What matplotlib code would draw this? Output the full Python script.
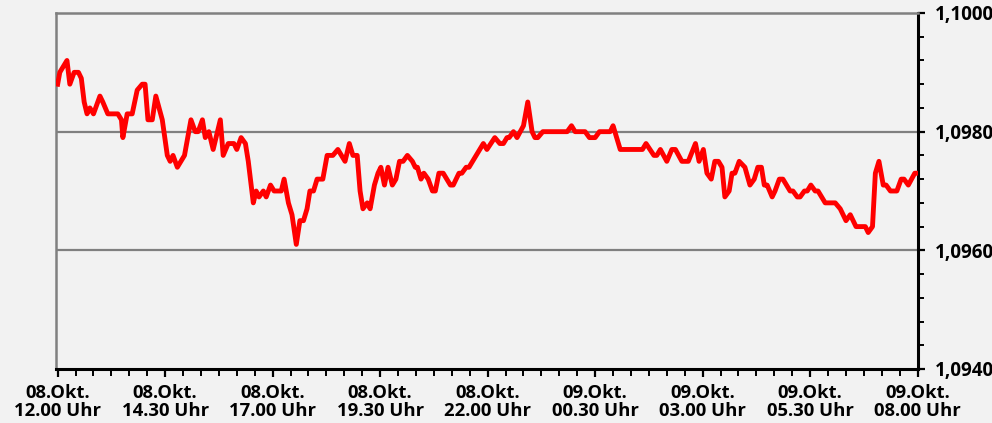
import matplotlib.pyplot as plt
import numpy as np

# minutes after 08.Okt. 12.00 Uhr
minutes = [0, 3, 8, 13, 17, 23, 29, 33, 37, 41, 45, 50, 59, 63, 70, 84, 89, 91, 97, 104,
           111, 118, 122, 126, 132, 137, 146, 153, 157, 161, 167, 177, 186, 192, 196, 202, 206, 211, 217, 227,
           231, 238, 246, 250, 256, 262, 266, 273, 277, 281, 287, 291, 297, 302, 312, 316, 322, 327, 333, 338,
           343, 348, 352, 357, 362, 370, 376, 384, 391, 401, 407, 412, 418, 422, 426, 432, 436, 442, 447, 451,
           456, 461, 467, 472, 477, 482, 488, 495, 499, 502, 507, 511, 517, 523, 527, 532, 538, 548, 552, 560,
           564, 570, 574, 594, 599, 610, 617, 622, 627, 630, 636, 641, 650, 656, 662, 666, 670, 677, 711, 717,
           722, 736, 742, 750, 756, 771, 775, 785, 816, 821, 832, 836, 841, 850, 857, 862, 871, 880, 890, 895,
           901, 906, 912, 917, 922, 927, 931, 937, 941, 945, 951, 959, 966, 972, 977, 982, 986, 990, 997, 1001,
           1007, 1012, 1022, 1026, 1032, 1036, 1042, 1046, 1051, 1057, 1061, 1071, 1085, 1092, 1100, 1106, 1114, 1127, 1131, 1137,
           1141, 1146, 1152, 1156, 1162, 1171, 1177, 1181, 1187, 1196, 1200]

kurs = [1.0988, 1.0990, 1.0991, 1.0992, 1.0988, 1.0990, 1.0990, 1.0989, 1.0985, 1.0983, 1.0984, 1.0983, 1.0986, 1.0985, 1.0983, 1.0983, 1.0982, 1.0979, 1.0983, 1.0983,
        1.0987, 1.0988, 1.0988, 1.0982, 1.0982, 1.0986, 1.0982, 1.0976, 1.0975, 1.0976, 1.0974, 1.0976, 1.0982, 1.0980, 1.0980, 1.0982, 1.0979, 1.0980, 1.0977, 1.0982,
        1.0976, 1.0978, 1.0978, 1.0977, 1.0979, 1.0978, 1.0975, 1.0968, 1.0970, 1.0969, 1.0970, 1.0969, 1.0971, 1.0970, 1.0970, 1.0972, 1.0968, 1.0966, 1.0961, 1.0965,
        1.0965, 1.0967, 1.0970, 1.0970, 1.0972, 1.0972, 1.0976, 1.0976, 1.0977, 1.0975, 1.0978, 1.0976, 1.0976, 1.0970, 1.0967, 1.0968, 1.0967, 1.0971, 1.0973, 1.0974,
        1.0971, 1.0974, 1.0971, 1.0972, 1.0975, 1.0975, 1.0976, 1.0975, 1.0974, 1.0974, 1.0972, 1.0973, 1.0972, 1.0970, 1.0970, 1.0973, 1.0973, 1.0971, 1.0971, 1.0973,
        1.0973, 1.0974, 1.0974, 1.0978, 1.0977, 1.0979, 1.0978, 1.0978, 1.0979, 1.0979, 1.0980, 1.0979, 1.0981, 1.0985, 1.0980, 1.0979, 1.0979, 1.0980, 1.0980, 1.0981,
        1.0980, 1.0980, 1.0979, 1.0979, 1.0980, 1.0980, 1.0981, 1.0977, 1.0977, 1.0978, 1.0976, 1.0976, 1.0977, 1.0975, 1.0977, 1.0977, 1.0975, 1.0975, 1.0978, 1.0975,
        1.0977, 1.0973, 1.0972, 1.0975, 1.0975, 1.0974, 1.0969, 1.0970, 1.0973, 1.0973, 1.0975, 1.0974, 1.0971, 1.0972, 1.0974, 1.0974, 1.0971, 1.0971, 1.0969, 1.0970,
        1.0972, 1.0972, 1.0970, 1.0970, 1.0969, 1.0969, 1.0970, 1.0970, 1.0971, 1.0970, 1.0970, 1.0968, 1.0968, 1.0967, 1.0965, 1.0966, 1.0964, 1.0964, 1.0963, 1.0964,
        1.0973, 1.0975, 1.0971, 1.0971, 1.0970, 1.0970, 1.0972, 1.0972, 1.0971, 1.0973, 1.0973]

tick_minutes = [0, 150, 300, 450, 600, 750, 900, 1050, 1200]
tick_labels = ["08.Okt.\n12.00 Uhr", "08.Okt.\n14.30 Uhr", "08.Okt.\n17.00 Uhr", "08.Okt.\n19.30 Uhr",
               "08.Okt.\n22.00 Uhr", "09.Okt.\n00.30 Uhr", "09.Okt.\n03.00 Uhr", "09.Okt.\n05.30 Uhr",
               "09.Okt.\n08.00 Uhr"]
y_ticks = [1.0940, 1.0960, 1.0980, 1.1000]
y_labels = ["1,0940", "1,0960", "1,0980", "1,1000"]

plt.rcParams['font.family'] = ['Open Sans', 'DejaVu Sans']
bg = "#f2f2f2"
grau = "#808080"

fig = plt.figure(figsize=(9.92, 4.23), dpi=100, facecolor=bg)
ax = fig.add_axes([55.5 / 992, 54 / 423, (918 - 55.5) / 992, 356 / 423], facecolor=bg)

for y in [1.0960, 1.0980]:
    ax.axhline(y, color=grau, lw=1.6, zorder=1)

ax.plot(minutes, kurs, color="#ff0000", lw=3.5, solid_joinstyle="round", zorder=3)

ax.set_xlim(-3, 1200.5)
ax.set_ylim(1.0940, 1.1000)

ax.xaxis.set_ticks_position("bottom")
ax.set_xticks(tick_minutes)
ax.set_xticklabels(tick_labels, fontsize=13.3, fontweight="bold", linespacing=0.95)
ax.set_xticks(np.arange(0, 1201, 25), minor=True)
ax.tick_params(axis="x", which="major", direction="out", length=6, width=1.6, pad=5, color="black")
ax.tick_params(axis="x", which="minor", direction="out", length=5, width=1.4, color="black")

ax.yaxis.tick_right()
ax.set_yticks(y_ticks)
ax.set_yticklabels(y_labels, fontsize=13.6, fontweight="bold")
ax.set_yticks(np.arange(1.0940, 1.10001, 0.0004), minor=True)
ax.tick_params(axis="y", which="major", direction="out", length=5, width=1.6, pad=7, color="black")
ax.tick_params(axis="y", which="minor", direction="out", length=4, width=1.4, color="black")

ax.spines["top"].set_color(grau)
ax.spines["top"].set_linewidth(1.8)
ax.spines["left"].set_color(grau)
ax.spines["left"].set_linewidth(1.8)
ax.spines["bottom"].set_color("black")
ax.spines["bottom"].set_linewidth(2.2)
ax.spines["right"].set_color("black")
ax.spines["right"].set_linewidth(2.2)

fig.savefig("out.png", dpi=100, facecolor=bg)
